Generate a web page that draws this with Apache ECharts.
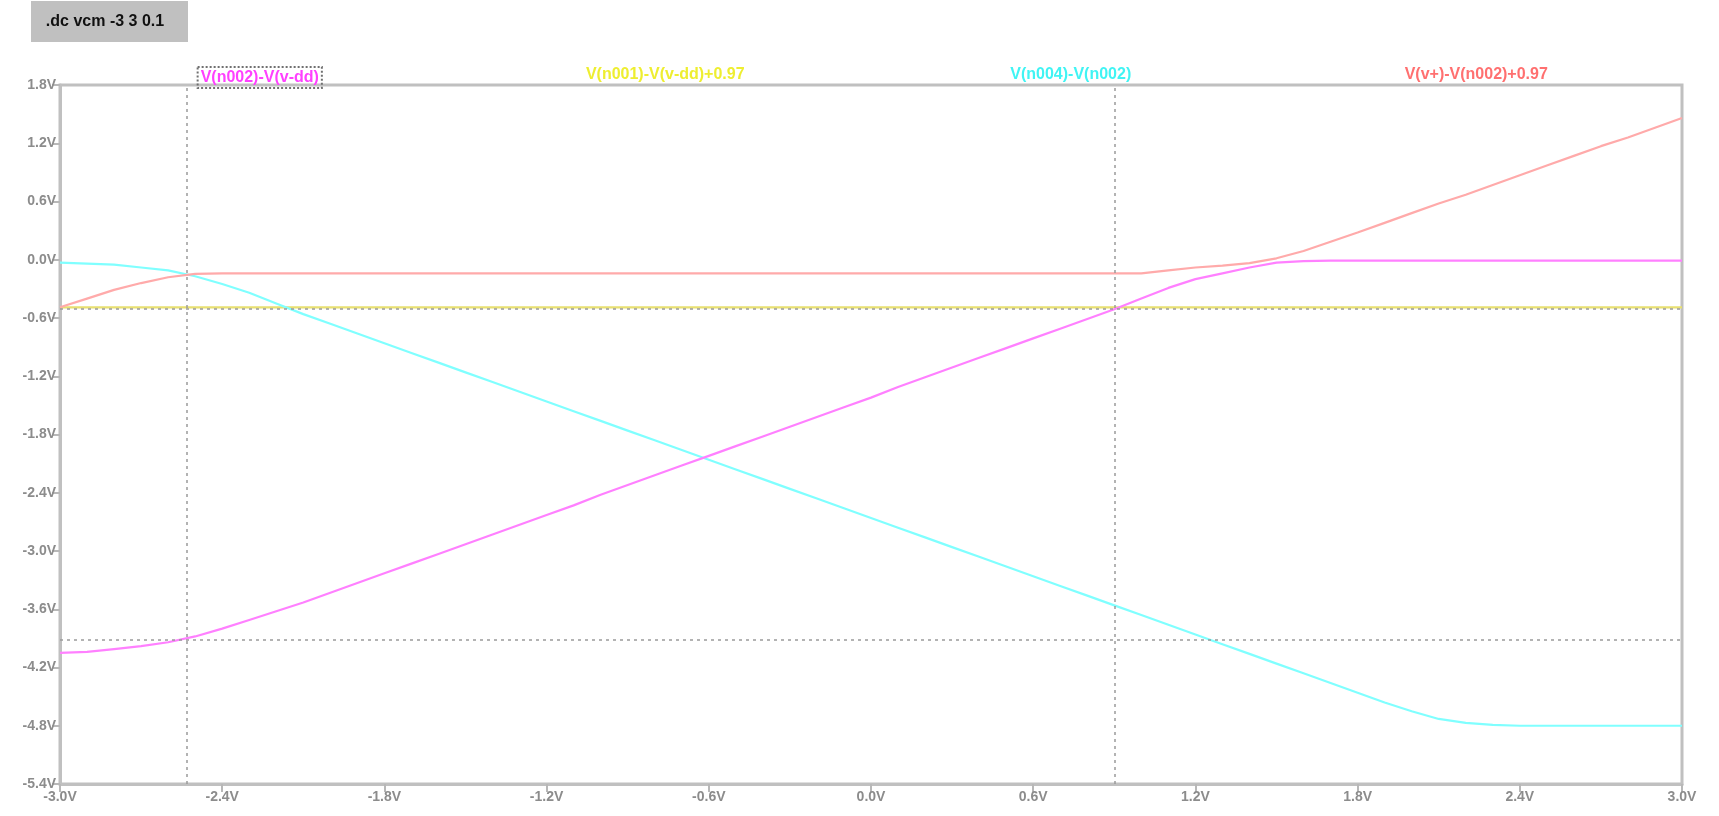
<!DOCTYPE html>
<html>
<head>
<meta charset="utf-8">
<script src="https://cdn.jsdelivr.net/npm/echarts@6/dist/echarts.min.js"></script>
<style>
  html, body { margin: 0; padding: 0; background: #ffffff; }
  #chart { width: 1719px; height: 816px; }
</style>
</head>
<body>
<div id="chart"></div>
<script>
// DC sweep of vcm: -3 V to 3 V in 0.1 V steps
const sweep = [
  -3.0, -2.9, -2.8, -2.7, -2.6, -2.5, -2.4, -2.3, -2.2, -2.1,
  -2.0, -1.9, -1.8, -1.7, -1.6, -1.5, -1.4, -1.3, -1.2, -1.1,
  -1.0, -0.9, -0.8, -0.7, -0.6, -0.5, -0.4, -0.3, -0.2, -0.1,
   0.0,  0.1,  0.2,  0.3,  0.4,  0.5,  0.6,  0.7,  0.8,  0.9,
   1.0,  1.1,  1.2,  1.3,  1.4,  1.5,  1.6,  1.7,  1.8,  1.9,
   2.0,  2.1,  2.2,  2.3,  2.4,  2.5,  2.6,  2.7,  2.8,  2.9,
   3.0
];

const traceNames = [
  'V(n002)-V(v-dd)',
  'V(n001)-V(v-dd)+0.97',
  'V(n004)-V(n002)',
  'V(v+)-V(n002)+0.97'
];

// V(n002)-V(v-dd)
const vN002Vdd = [
  -4.05, -4.04, -4.01, -3.98, -3.94, -3.88, -3.80, -3.71, -3.62, -3.53,
  -3.43, -3.33, -3.23, -3.13, -3.03, -2.93, -2.83, -2.73, -2.63, -2.53,
  -2.42, -2.32, -2.22, -2.12, -2.02, -1.92, -1.82, -1.72, -1.62, -1.52,
  -1.42, -1.31, -1.21, -1.11, -1.01, -0.91, -0.81, -0.71, -0.61, -0.51,
  -0.40, -0.29, -0.20, -0.14, -0.08, -0.03, -0.015, -0.01, -0.01, -0.01,
  -0.01, -0.01, -0.01, -0.01, -0.01, -0.01, -0.01, -0.01, -0.01, -0.01,
  -0.01
];

// V(n001)-V(v-dd)+0.97
const vN001Vdd = [
  -0.49, -0.49, -0.49, -0.49, -0.49, -0.49, -0.49, -0.49, -0.49, -0.49,
  -0.49, -0.49, -0.49, -0.49, -0.49, -0.49, -0.49, -0.49, -0.49, -0.49,
  -0.49, -0.49, -0.49, -0.49, -0.49, -0.49, -0.49, -0.49, -0.49, -0.49,
  -0.49, -0.49, -0.49, -0.49, -0.49, -0.49, -0.49, -0.49, -0.49, -0.49,
  -0.49, -0.49, -0.49, -0.49, -0.49, -0.49, -0.49, -0.49, -0.49, -0.49,
  -0.49, -0.49, -0.49, -0.49, -0.49, -0.49, -0.49, -0.49, -0.49, -0.49,
  -0.49
];

// V(n004)-V(n002)
const vN004N002 = [
  -0.03, -0.04, -0.05, -0.08, -0.11, -0.17, -0.25, -0.34, -0.45, -0.56,
  -0.66, -0.76, -0.86, -0.96, -1.06, -1.16, -1.26, -1.36, -1.46, -1.56,
  -1.66, -1.76, -1.86, -1.96, -2.06, -2.16, -2.26, -2.36, -2.46, -2.56,
  -2.66, -2.76, -2.86, -2.96, -3.06, -3.16, -3.26, -3.36, -3.46, -3.56,
  -3.66, -3.76, -3.86, -3.96, -4.06, -4.16, -4.26, -4.36, -4.46, -4.56,
  -4.65, -4.73, -4.77, -4.79, -4.80, -4.80, -4.80, -4.80, -4.80, -4.80,
  -4.80
];

// V(v+)-V(n002)+0.97
const vVpN002 = [
  -0.49, -0.40, -0.31, -0.24, -0.18, -0.145, -0.14, -0.14, -0.14, -0.14,
  -0.14, -0.14, -0.14, -0.14, -0.14, -0.14, -0.14, -0.14, -0.14, -0.14,
  -0.14, -0.14, -0.14, -0.14, -0.14, -0.14, -0.14, -0.14, -0.14, -0.14,
  -0.14, -0.14, -0.14, -0.14, -0.14, -0.14, -0.14, -0.14, -0.14, -0.14,
  -0.14, -0.11, -0.08, -0.06, -0.035, 0.015, 0.09, 0.185, 0.28, 0.38,
   0.48, 0.58, 0.67, 0.77, 0.87, 0.97, 1.07, 1.17, 1.26, 1.36,
   1.46
];

// Cursor positions on the V(n002)-V(v-dd) trace
const cursorX = [-2.53, 0.90];
const cursorY = [-3.91, -0.50];

const traceValues = [vN002Vdd, vN001Vdd, vN004N002, vVpN002];
const lineColors = ['#ff80ff', '#e8e070', '#80ffff', '#ffaaaa'];
const labelColors = ['#ff40ff', '#eeee30', '#40f4f4', '#ff7070'];

const FONT = 'Liberation Sans, Arial, sans-serif';

const grid = { left: 60, right: 37, top: 85, bottom: 32 };
const plotWidth = 1719 - grid.left - grid.right;

function voltLabel(v) {
  if (Math.abs(v) < 1e-9) v = 0;
  return v.toFixed(1) + 'V';
}

// Trace names spread evenly along the top edge of the plot
const titles = traceNames.map((name, i) => ({
  text: i === 0 ? '{sel|' + name + '}' : name,
  left: grid.left + plotWidth * (i + 0.5) / 4 - 8,
  top: 62,
  textAlign: 'center',
  textStyle: {
    color: labelColors[i],
    fontFamily: FONT,
    fontWeight: 'bold',
    fontSize: 16,
    rich: {
      sel: {
        color: labelColors[i],
        fontFamily: FONT,
        fontWeight: 'bold',
        fontSize: 16,
        borderColor: '#707070',
        borderType: 'dotted',
        borderWidth: 2,
        padding: [3, 3, 2, 3]
      }
    }
  }
}));

const series = traceNames.map((name, i) => {
  const s = {
    name: name,
    type: 'line',
    data: sweep.map((x, k) => [x, traceValues[i][k]]),
    showSymbol: false,
    symbol: 'none',
    z: 2,
    lineStyle: { color: lineColors[i], width: 2.2 },
    itemStyle: { color: lineColors[i] }
  };
  if (i === 0) {
    s.z = 3;
    s.markLine = {
      silent: true,
      symbol: 'none',
      label: { show: false },
      lineStyle: { color: '#9a9a9a', width: 1.5, type: [3, 4] },
      data: cursorX.map(x => ({ xAxis: x })).concat(cursorY.map(y => ({ yAxis: y })))
    };
  }
  return s;
});

const axisCommon = {
  type: 'value',
  interval: 0.6,
  axisLine: { show: true, onZero: false, lineStyle: { color: '#c0c0c0', width: 3 } },
  axisTick: { show: true, length: 8, lineStyle: { color: '#b8b8b8', width: 2 } },
  splitLine: { show: false },
  axisLabel: {
    formatter: voltLabel,
    color: '#8c8c8c',
    fontFamily: FONT,
    fontWeight: 'bold',
    fontSize: 14,
    margin: 4
  }
};

const chart = echarts.init(document.getElementById('chart'), null, { renderer: 'canvas' });
chart.setOption({
  animation: false,
  backgroundColor: '#ffffff',
  title: titles,
  grid: Object.assign({ show: true, borderColor: '#c0c0c0', borderWidth: 3, containLabel: false }, grid),
  xAxis: Object.assign({}, axisCommon, {
    min: -3, max: 3,
    axisLabel: Object.assign({}, axisCommon.axisLabel, { margin: 6 })
  }),
  yAxis: Object.assign({}, axisCommon, { min: -5.4, max: 1.8 }),
  graphic: [
    {
      type: 'rect',
      left: 31, top: 1,
      shape: { width: 157, height: 41 },
      style: { fill: '#c0c0c0' },
      silent: true
    },
    {
      type: 'text',
      x: 105, y: 22,
      style: {
        text: '.dc vcm -3 3 0.1',
        fill: '#111111',
        font: 'bold 16px ' + FONT,
        align: 'center',
        verticalAlign: 'middle'
      },
      silent: true
    }
  ],
  series: series
});
</script>
</body>
</html>
